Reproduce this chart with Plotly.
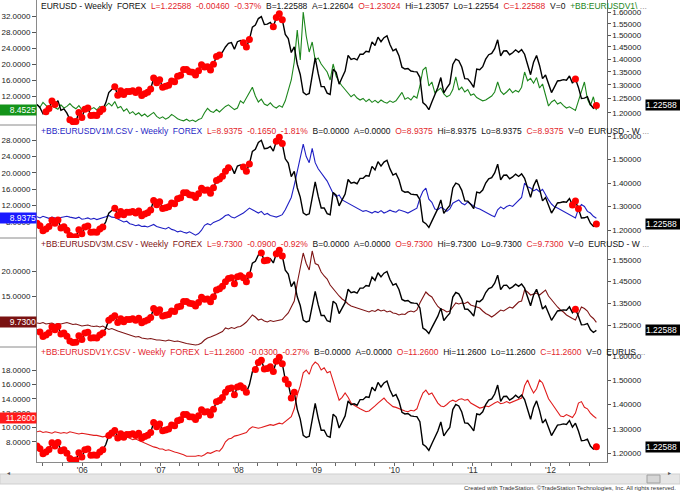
import math
import pandas as pd
import plotly.graph_objects as go
from plotly.subplots import make_subplots

# ---------------- data (bi-weekly samples, Jun 2005 .. Aug 2012) ----------------
eurusd_2005 = [1.2290, 1.2180, 1.1970, 1.2040, 1.2150, 1.2420, 1.2290, 1.2430, 1.2090, 1.2140, 1.1990, 1.1770, 1.1700, 1.1710, 1.2010, 1.1840]
eurusd_2006 = [1.2130, 1.2170, 1.1910, 1.1920, 1.1910, 1.2040, 1.2130, 1.2350, 1.2720, 1.2830, 1.2930, 1.2620, 1.2790, 1.2650, 1.2760, 1.2760, 1.2790, 1.2720, 1.2810, 1.2610, 1.2680, 1.2730, 1.2850, 1.3260, 1.3080, 1.3200]
eurusd_2007 = [1.2920, 1.2950, 1.2990, 1.3150, 1.3120, 1.3330, 1.3370, 1.3590, 1.3590, 1.3500, 1.3480, 1.3380, 1.3540, 1.3780, 1.3690, 1.3700, 1.3570, 1.3800, 1.4110, 1.4170, 1.4290, 1.4500, 1.4650, 1.4680, 1.4400, 1.4720]
eurusd_2008 = [1.4770, 1.4680, 1.4500, 1.4810, 1.5350, 1.5440, 1.5730, 1.5820, 1.5460, 1.5480, 1.5560, 1.5360, 1.5780, 1.5950, 1.5680, 1.5030, 1.4850, 1.4270, 1.4500, 1.3800, 1.3400, 1.2730, 1.2640, 1.2690, 1.3340, 1.4050]
eurusd_2009 = [1.3440, 1.2940, 1.2940, 1.2700, 1.2650, 1.3600, 1.3480, 1.3030, 1.3280, 1.3530, 1.4150, 1.3990, 1.4030, 1.3970, 1.4200, 1.4200, 1.4320, 1.4290, 1.4710, 1.4560, 1.4910, 1.4720, 1.4890, 1.4970, 1.4600, 1.4340]
eurusd_2010 = [1.4410, 1.4140, 1.3680, 1.3610, 1.3630, 1.3530, 1.3510, 1.3500, 1.3290, 1.2360, 1.2270, 1.2110, 1.2380, 1.2640, 1.2910, 1.3280, 1.2710, 1.2890, 1.3050, 1.3790, 1.4000, 1.3940, 1.3690, 1.3240, 1.3230, 1.3090]
eurusd_2011 = [1.2910, 1.3610, 1.3580, 1.3700, 1.4000, 1.4180, 1.4230, 1.4430, 1.4800, 1.4130, 1.4330, 1.4340, 1.4180, 1.4260, 1.4380, 1.4280, 1.4390, 1.4200, 1.3790, 1.3390, 1.3880, 1.4150, 1.3750, 1.3240, 1.3380, 1.3040]
eurusd_2012 = [1.2720, 1.2930, 1.3150, 1.3170, 1.3200, 1.3180, 1.3340, 1.3070, 1.3230, 1.2910, 1.2510, 1.2520, 1.2570, 1.2290, 1.2160, 1.22588]

v1w_2005 = [9.8, 9.2, 10.4, 9.6, 8.9, 9.5, 9.1, 8.7, 9.8, 9.0, 9.4, 10.1, 9.3, 8.8, 9.6, 8.6]
v1w_2006 = [8.9, 9.3, 8.7, 9.1, 8.5, 9.4, 8.8, 9.6, 10.2, 9.5, 10.6, 9.0, 9.4, 8.2, 8.8, 7.6, 8.1, 7.3, 7.8, 7.0, 7.5, 6.8, 7.4, 7.9, 6.9, 6.4]
v1w_2007 = [6.8, 6.2, 6.6, 7.4, 6.9, 6.3, 6.0, 5.8, 6.2, 5.7, 6.0, 5.6, 6.1, 6.4, 7.8, 8.9, 8.2, 7.9, 8.6, 8.0, 8.7, 9.4, 9.8, 9.1, 8.6, 9.0]
v1w_2008 = [10.8, 10.2, 11.5, 12.6, 14.2, 12.0, 10.5, 11.2, 10.0, 9.6, 10.3, 9.4, 9.0, 9.6, 9.2, 10.8, 13.5, 16.0, 20.5, 28.5, 21.0, 33.0, 27.0, 23.0, 25.5, 21.0]
v1w_2009 = [21.5, 20.0, 19.0, 18.0, 16.0, 20.0, 17.0, 15.5, 14.5, 13.5, 12.8, 11.8, 12.4, 11.5, 11.0, 11.4, 10.6, 11.2, 10.4, 10.9, 10.3, 11.0, 10.5, 10.2, 10.8, 10.4]
v1w_2010 = [10.8, 12.0, 12.9, 11.2, 11.6, 11.0, 12.0, 11.5, 14.5, 18.5, 19.2, 14.5, 15.5, 12.8, 13.5, 14.0, 12.5, 11.8, 12.2, 13.6, 16.8, 13.5, 14.2, 13.0, 13.6, 12.2]
v1w_2011 = [12.5, 11.6, 11.2, 10.8, 11.0, 11.6, 12.0, 13.0, 15.5, 13.2, 12.4, 13.0, 13.8, 12.8, 13.4, 13.0, 14.2, 18.0, 15.8, 16.4, 15.2, 16.6, 14.0, 15.0, 12.5, 9.5]
v1w_2012 = [10.5, 11.0, 10.0, 10.4, 9.6, 9.0, 9.3, 8.8, 8.4, 10.8, 13.0, 15.5, 11.2, 9.6, 11.8, 8.4525]

v1m_2005 = [9.3, 9.0, 9.4, 9.1, 8.9, 9.2, 9.0, 8.8, 9.1, 9.3, 9.4, 9.2, 9.0, 8.9, 9.2, 8.7]
v1m_2006 = [8.8, 9.0, 8.7, 8.9, 8.6, 8.8, 9.0, 9.3, 9.6, 9.2, 9.1, 8.7, 8.4, 8.0, 8.2, 7.6, 7.4, 7.1, 7.3, 6.9, 7.0, 6.8, 7.1, 7.4, 6.9, 6.6]
v1m_2007 = [6.5, 6.3, 6.7, 6.2, 6.0, 5.6, 5.8, 5.5, 5.3, 5.6, 5.1, 4.8, 5.2, 6.0, 7.2, 7.6, 7.3, 7.9, 8.2, 8.5, 9.0, 9.6, 9.8, 9.2, 9.0, 9.4]
v1m_2008 = [9.6, 10.2, 10.8, 11.4, 11.0, 10.5, 10.2, 10.6, 9.8, 10.1, 9.6, 9.4, 9.2, 9.5, 9.8, 11.0, 12.5, 14.0, 17.0, 20.5, 24.0, 27.0, 24.0, 22.5, 26.0, 22.5]
v1m_2009 = [21.0, 20.0, 19.2, 18.0, 16.5, 15.0, 14.2, 14.6, 13.4, 13.0, 12.4, 12.0, 11.6, 11.2, 10.9, 10.6, 10.8, 10.5, 10.2, 10.6, 10.3, 10.8, 10.2, 10.5, 10.9, 10.6]
v1m_2010 = [10.4, 11.0, 10.8, 10.5, 10.2, 10.6, 11.0, 11.4, 13.8, 15.5, 16.3, 13.6, 12.8, 11.2, 11.0, 11.6, 11.2, 10.6, 11.2, 12.6, 13.0, 13.4, 12.6, 12.2, 12.9, 12.4]
v1m_2011 = [12.0, 11.4, 11.2, 10.8, 10.2, 10.0, 9.6, 9.3, 11.0, 11.7, 11.2, 11.8, 12.1, 11.8, 12.6, 13.4, 14.0, 17.5, 16.6, 16.3, 15.6, 16.0, 15.4, 16.0, 14.6, 13.4]
v1m_2012 = [12.4, 11.7, 11.4, 11.0, 10.6, 10.1, 9.7, 9.3, 9.0, 11.2, 12.3, 11.8, 10.6, 10.2, 9.4, 8.9375]

v3m_2005 = [9.6, 9.5, 9.7, 9.4, 9.5, 9.6, 9.3, 9.5, 9.4, 9.6, 9.7, 9.5, 9.3, 9.4, 9.2, 9.0]
v3m_2006 = [9.1, 9.2, 9.0, 8.9, 9.0, 8.8, 9.0, 8.6, 8.3, 8.5, 8.2, 8.0, 7.8, 7.6, 7.5, 7.2, 7.0, 6.8, 6.9, 6.6, 6.5, 6.4, 6.5, 6.3, 6.2, 6.2]
v3m_2007 = [6.1, 6.0, 6.2, 6.0, 5.9, 6.0, 5.8, 5.6, 5.5, 5.4, 5.3, 5.2, 5.3, 5.6, 6.2, 6.6, 6.8, 7.0, 7.3, 7.6, 7.9, 8.6, 8.4, 8.7, 8.5, 8.8]
v3m_2008 = [8.9, 9.3, 9.8, 10.5, 11.2, 10.8, 10.2, 10.4, 10.0, 9.8, 10.1, 9.9, 10.0, 10.2, 10.3, 11.0, 11.6, 12.8, 14.0, 17.6, 21.0, 23.6, 21.5, 20.2, 24.0, 21.5]
v3m_2009 = [21.2, 19.8, 19.0, 18.4, 17.2, 16.4, 15.6, 15.0, 14.4, 14.0, 13.4, 13.0, 12.8, 12.6, 12.4, 12.2, 11.9, 11.8, 12.1, 11.9, 12.3, 12.0, 12.2, 11.8, 12.0, 11.6]
v3m_2010 = [11.5, 11.2, 11.4, 11.3, 11.8, 12.0, 11.8, 12.2, 13.6, 14.8, 15.8, 15.2, 14.8, 13.8, 12.9, 12.4, 12.2, 11.8, 12.0, 12.8, 13.6, 13.4, 13.6, 13.5, 13.8, 13.2]
v3m_2011 = [13.0, 12.8, 12.6, 12.0, 11.5, 11.2, 10.8, 11.2, 11.8, 12.2, 12.0, 12.4, 12.8, 12.6, 13.2, 13.8, 14.0, 16.2, 15.8, 15.2, 15.4, 15.6, 15.2, 15.8, 16.2, 15.0]
v3m_2012 = [14.2, 13.6, 12.8, 12.2, 11.8, 11.2, 10.8, 10.5, 10.2, 11.4, 12.8, 12.5, 12.0, 11.0, 10.5, 9.73]

v1y_2005 = [9.4, 9.5, 9.3, 9.4, 9.3, 9.2, 9.4, 9.3, 9.2, 9.3, 9.2, 9.4, 9.3, 9.2, 9.1, 9.2]
v1y_2006 = [9.1, 9.0, 9.0, 8.9, 8.9, 8.8, 8.7, 8.8, 8.7, 8.9, 8.8, 8.9, 8.8, 8.9, 8.7, 8.5, 8.3, 8.4, 8.2, 8.0, 7.8, 7.7, 7.4, 7.3, 7.2, 7.0]
v1y_2007 = [7.0, 6.8, 6.9, 6.7, 6.6, 6.5, 6.4, 6.2, 6.0, 6.0, 5.9, 6.0, 6.1, 6.0, 6.2, 6.5, 6.4, 6.6, 6.8, 6.7, 7.2, 8.0, 8.4, 8.5, 8.8, 8.9]
v1y_2008 = [9.0, 9.1, 9.3, 9.8, 10.1, 10.0, 9.9, 10.0, 10.1, 10.3, 10.4, 10.3, 10.5, 10.6, 10.5, 10.8, 11.2, 11.5, 12.6, 14.5, 15.8, 17.6, 18.0, 17.4, 18.6, 19.1]
v1y_2009 = [18.8, 18.0, 18.3, 17.6, 17.8, 16.5, 15.0, 13.8, 14.2, 14.8, 14.2, 13.4, 13.1, 12.8, 12.6, 12.4, 12.2, 12.3, 12.6, 13.0, 13.4, 13.8, 14.1, 13.6, 13.2, 12.9]
v1y_2010 = [12.8, 12.6, 12.4, 12.3, 12.2, 12.4, 12.3, 12.6, 13.8, 14.8, 15.2, 14.6, 14.8, 14.0, 13.4, 13.0, 12.9, 13.2, 13.6, 13.8, 13.6, 13.9, 14.0, 13.8, 13.9, 13.4]
v1y_2011 = [13.2, 13.0, 12.7, 12.8, 13.0, 12.9, 13.2, 13.4, 13.6, 13.3, 13.4, 13.6, 13.4, 13.6, 13.8, 14.0, 14.1, 15.8, 16.6, 15.6, 14.8, 15.4, 16.6, 16.2, 15.0, 14.0]
v1y_2012 = [13.4, 12.8, 12.2, 11.6, 11.5, 11.8, 11.6, 11.4, 12.0, 13.4, 13.6, 12.8, 12.6, 12.0, 11.6, 11.26]

eurusd = eurusd_2005 + eurusd_2006 + eurusd_2007 + eurusd_2008 + eurusd_2009 + eurusd_2010 + eurusd_2011 + eurusd_2012
v1w = v1w_2005 + v1w_2006 + v1w_2007 + v1w_2008 + v1w_2009 + v1w_2010 + v1w_2011 + v1w_2012
v1m = v1m_2005 + v1m_2006 + v1m_2007 + v1m_2008 + v1m_2009 + v1m_2010 + v1m_2011 + v1m_2012
v3m = v3m_2005 + v3m_2006 + v3m_2007 + v3m_2008 + v3m_2009 + v3m_2010 + v3m_2011 + v3m_2012
v1y = v1y_2005 + v1y_2006 + v1y_2007 + v1y_2008 + v1y_2009 + v1y_2010 + v1y_2011 + v1y_2012
for s in (v1w, v1m, v3m, v1y):
    assert len(s) == len(eurusd), len(s)

dates = pd.date_range("2005-06-03", periods=len(eurusd), freq="14D")

# periods where the EURUSD line is drawn with red dots, per panel
dots_p1 = [("2005-07-10", "2005-09-01"), ("2005-11-01", "2006-04-20"), ("2006-06-01", "2007-10-10"),
           ("2008-01-20", "2008-02-28"), ("2008-06-10", "2008-07-31"), ("2012-04-20", "2012-04-30"), ("2012-08-01", "2012-08-05")]
dots_p2 = [("2005-06-01", "2006-04-20"), ("2006-05-20", "2007-11-20"), ("2008-01-20", "2008-03-01"),
           ("2008-06-20", "2008-08-01"), ("2012-04-01", "2012-05-12"), ("2012-08-01", "2012-08-05")]
dots_p3 = [("2005-06-10", "2006-04-10"), ("2006-05-01", "2008-03-01"), ("2008-04-15", "2008-05-20"),
           ("2008-06-15", "2008-08-01"), ("2012-04-20", "2012-04-30")]
dots_p4 = [("2005-06-01", "2006-04-20"), ("2006-05-01", "2008-02-10"), ("2008-03-20", "2008-09-25"),
           ("2012-08-01", "2012-08-05")]

year_ticks = ["2006-01-01", "2007-01-01", "2008-01-01", "2009-01-01", "2010-01-01", "2011-01-01", "2012-01-01"]
year_labels = ["'06", "'07", "'08", "'09", "'10", "'11", "'12"]

# ---------------- styling ----------------
FONT = "Liberation Sans, Arial, sans-serif"
HSIZE = 8.5
TSIZE = 8.0
RED = "#e3262c"
NB = "\u00a0"
W, H = 680, 492
ML, MR, MT, MB = 37, 37, 0, 30
PW = W - ML - MR
PH = H - MT - MB


def py(y):  # pixel y -> paper y
    return 1 - y / PH


def px(x):  # pixel x -> paper x
    return (x - ML) / PW


def hdr(parts):
    return "".join(f'<span style="color:{c}">{t.replace(" ", NB)}</span>' for t, c in parts)


def dot_points(ranges):
    xs, ys = [], []
    rr = [(pd.Timestamp(a), pd.Timestamp(b)) for a, b in ranges]
    for d, v in zip(dates, eurusd):
        if any(a <= d <= b for a, b in rr):
            xs.append(d)
            ys.append(v)
    return xs, ys


panels = [
    dict(vol=v1w, color="#1c861c", box="#14941a", dots=dots_p1, top=0, bot=125,
         lrange=[4.75, 36.0], lticks=[8, 12, 16, 20, 24, 28, 32],
         rlog=True, rrange=[1.159, 1.659], rticks=[1.20, 1.25, 1.30, 1.35, 1.40, 1.45, 1.50, 1.55, 1.60],
         hy=6,
         header=hdr([("EURUSD - Weekly  FOREX  ", "#111"), ("L=1.22588  -0.00460  -0.37%", RED),
                     ("  B=1.22588  A=1.22604  ", "#111"), ("O=1.23024", RED),
                     ("  Hi=1.23057  Lo=1.22554  ", "#111"), ("C=1.22588", RED), ("  V=0  ", "#111"),
                     ("+BB:EURUSDV1\\ ", "#1c861c"), ("...", "#999")])),
    dict(vol=v1m, color="#1f1fc4", box="#1a1aff", dots=dots_p2, top=125, bot=238,
         lrange=[4.1, 31.7], lticks=[8, 12, 16, 20, 24, 28],
         rlog=False, rrange=[1.166, 1.647], rticks=[1.2, 1.3, 1.4, 1.5, 1.6],
         hy=131,
         header=hdr([("+BB:EURUSDV1M.CSV - Weekly  FOREX  ", "#1f1fc4"), ("L=8.9375  -0.1650  -1.81%", RED),
                     ("  B=0.0000  A=0.0000  ", "#111"), ("O=8.9375", RED),
                     ("  Hi=8.9375  Lo=8.9375  ", "#111"), ("C=8.9375", RED), ("  V=0  EURUSD - W ", "#111"),
                     ("...", "#999")])),
    dict(vol=v3m, color="#7e1414", box="#7a1212", dots=dots_p3, top=238, bot=347,
         lrange=[4.8, 26.6], lticks=[15, 20],
         rlog=False, rrange=[1.149, 1.651], rticks=[1.25, 1.35, 1.45, 1.55],
         hy=244,
         header=hdr([("+BB:EURUSDV3M.CSV - Weekly  FOREX  ", "#7e1414"), ("L=9.7300  -0.0900  -0.92%", RED),
                     ("  B=0.0000  A=0.0000  ", "#111"), ("O=9.7300", RED),
                     ("  Hi=9.7300  Lo=9.7300  ", "#111"), ("C=9.7300", RED), ("  V=0  EURUSD - W ", "#111"),
                     ("...", "#999")])),
    dict(vol=v1y, color="#e01c1c", box="#ff1a1a", dots=dots_p4, top=347, bot=462,
         lrange=[5.2, 21.2], lticks=[8, 10, 12, 14, 16, 18],
         rlog=False, rrange=[1.163, 1.637], rticks=[1.2, 1.3, 1.4, 1.5, 1.6],
         hy=352,
         header=hdr([("+BB:EURUSDV1Y.CSV - Weekly  FOREX  ", RED), ("L=11.2600  -0.0300  -0.27%", RED),
                     ("  B=0.0000  A=0.0000  ", "#111"), ("O=11.2600", RED),
                     ("  Hi=11.2600  Lo=11.2600  ", "#111"), ("C=11.2600", RED), ("  V=0  EURUS ", "#111"),
                     ("...", "#999")])),
]

fig = make_subplots(rows=4, cols=1, shared_xaxes=True, vertical_spacing=0,
                    specs=[[{"secondary_y": True}] for _ in range(4)])

annotations = []
shapes = []
for r, p in enumerate(panels, start=1):
    fig.add_trace(go.Scatter(x=dates, y=p["vol"], mode="lines", line=dict(color=p["color"], width=1.1),
                             hoverinfo="skip"), row=r, col=1, secondary_y=False)
    fig.add_trace(go.Scatter(x=dates, y=eurusd, mode="lines", line=dict(color="#000000", width=1.4),
                             hoverinfo="skip"), row=r, col=1, secondary_y=True)
    dx, dy = dot_points(p["dots"])
    fig.add_trace(go.Scatter(x=dx, y=dy, mode="markers", marker=dict(color="#ff0000", size=7, line=dict(width=0)),
                             hoverinfo="skip"), row=r, col=1, secondary_y=True)

    dom = [py(p["bot"]), py(p["top"])]
    fig.update_yaxes(row=r, col=1, secondary_y=False, domain=dom, range=p["lrange"],
                     tickvals=p["lticks"], tickformat=".4f", ticks="outside", ticklen=4, tickcolor="#555",
                     showline=True, linecolor="#8a8a8a", linewidth=1, showgrid=False, zeroline=False,
                     tickfont=dict(family=FONT, size=TSIZE, color="#222"))
    ropts = dict(domain=dom, tickvals=p["rticks"], tickformat=".5f", ticks="outside", ticklen=3,
                 tickcolor="#555", showline=True, linecolor="#6a6a6a", linewidth=1, showgrid=False,
                 zeroline=False, side="right", tickfont=dict(family=FONT, size=TSIZE, color="#222"))
    if p["rlog"]:
        ropts.update(type="log", range=[math.log10(p["rrange"][0]), math.log10(p["rrange"][1])])
    else:
        ropts.update(range=p["rrange"])
    fig.update_yaxes(row=r, col=1, secondary_y=True, **ropts)

    lref = "y" if r == 1 else f"y{2 * r - 1}"
    rref = f"y{2 * r}"
    # header line
    annotations.append(dict(xref="paper", yref="paper", x=0, xshift=2, y=py(p["hy"]), xanchor="left",
                            yanchor="middle", text=p["header"], showarrow=False,
                            font=dict(family=FONT, size=HSIZE)))
    # last value boxes
    last_vol = p["vol"][-1]
    annotations.append(dict(xref="paper", yref=lref, x=0, xanchor="right", y=last_vol, yanchor="middle",
                            text=f"{last_vol:.4f}", showarrow=False, bgcolor=p["box"], width=36, align="right",
                            borderpad=0, font=dict(family=FONT, size=TSIZE + 0.5, color="white")))
    last_px = eurusd[-1]
    annotations.append(dict(xref="paper", yref=rref, x=1, xanchor="left", xshift=2,
                            y=math.log10(last_px) if p["rlog"] else last_px, yanchor="middle",
                            text=f"{last_px:.5f}", showarrow=False, bgcolor="#000000", width=34, align="left",
                            borderpad=0, font=dict(family=FONT, size=TSIZE + 0.5, color="white")))
    # separators in the axis margins
    if r > 1:
        shapes.append(dict(type="line", xref="paper", yref="paper", x0=px(0), x1=0,
                           y0=py(p["top"]), y1=py(p["top"]), line=dict(color="#8a8a8a", width=1)))

fig.update_xaxes(range=["2005-06-03", "2012-09-20"], showgrid=False, zeroline=False, showticklabels=False,
                 ticks="")
fig.update_xaxes(row=4, col=1, showticklabels=True, showline=True, linecolor="#8a8a8a", linewidth=1,
                 ticks="", tickvals=year_ticks, ticktext=year_labels,
                 minor=dict(tickvals=list(pd.date_range("2005-07-01", "2012-09-01", freq="QS")),
                            ticks="outside", ticklen=3, tickcolor="#666"),
                 tickfont=dict(family=FONT, size=8.5, color="#333"))

# scroll bar + footer
shapes.append(dict(type="rect", xref="paper", yref="paper", x0=px(0), x1=px(W), y0=py(484), y1=py(474),
                   fillcolor="#e6e6e6", line=dict(color="#cfcfcf", width=1), layer="above"))
shapes.append(dict(type="rect", xref="paper", yref="paper", x0=px(647), x1=px(660), y0=py(483), y1=py(475),
                   fillcolor="#d6d6d6", line=dict(color="#a0a0a0", width=1), layer="above"))
annotations.append(dict(xref="paper", yref="paper", x=px(5), y=py(479), text="\u25c2", showarrow=False,
                        font=dict(size=6, color="#555")))
annotations.append(dict(xref="paper", yref="paper", x=px(673), y=py(479), text="\u25b8", showarrow=False,
                        font=dict(size=6, color="#555")))
annotations.append(dict(xref="paper", yref="paper", x=px(678), xanchor="right", y=py(488), yanchor="middle",
                        text="Created with TradeStation. \u00a9TradeStation Technologies, Inc. All rights reserved.",
                        showarrow=False, font=dict(family=FONT, size=6, color="#333")))

fig.update_layout(width=W, height=H, margin=dict(l=ML, r=MR, t=MT, b=MB), paper_bgcolor="white",
                  plot_bgcolor="white", showlegend=False, annotations=annotations, shapes=shapes,
                  template="none", hovermode=False)

fig.write_html("out.html")
